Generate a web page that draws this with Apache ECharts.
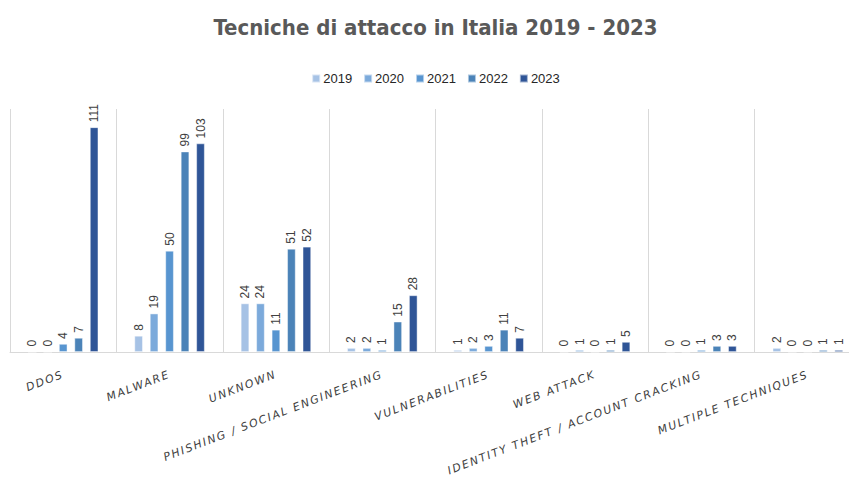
<!DOCTYPE html>
<html>
<head>
<meta charset="utf-8">
<title>Tecniche di attacco in Italia 2019 - 2023</title>
<script src="https://cdn.jsdelivr.net/npm/echarts@6/dist/echarts.min.js"></script>
<style>
  html, body { margin: 0; padding: 0; background: #ffffff; overflow: hidden; }
  #chart { width: 871px; height: 486px; }
  /* spaced-out italic category labels */
  #chart svg text[style*="italic"] { letter-spacing: 1.7px; }
</style>
</head>
<body>
<div id="chart"></div>
<script>
// Attack techniques per year (Italy)
const categories = [
  'DDOS', 'MALWARE', 'UNKNOWN', 'PHISHING / SOCIAL ENGINEERING',
  'VULNERABILITIES', 'WEB ATTACK', 'IDENTITY THEFT / ACCOUNT CRACKING', 'MULTIPLE TECHNIQUES'
];
const years = ['2019', '2020', '2021', '2022', '2023'];
const values2019 = [0, 8, 24, 2, 1, 0, 0, 2];
const values2020 = [0, 19, 24, 2, 2, 1, 0, 0];
const values2021 = [4, 50, 11, 1, 3, 0, 1, 0];
const values2022 = [7, 99, 51, 15, 11, 1, 3, 1];
const values2023 = [111, 103, 52, 28, 7, 5, 3, 1];
const yearColors = ['#a6c2e5', '#7caadb', '#5895d0', '#4b83b8', '#2f5597'];

const seriesValues = [values2019, values2020, values2021, values2022, values2023];

const chart = echarts.init(document.getElementById('chart'), null, { renderer: 'svg' });

chart.setOption({
  backgroundColor: '#ffffff',
  animation: false,
  title: {
    text: 'Tecniche di attacco in Italia 2019 - 2023',
    left: 'center',
    top: 11,
    textStyle: {
      fontFamily: '"Liberation Sans Narrow", "DejaVu Sans Condensed", sans-serif',
      fontWeight: 'bold',
      fontSize: 22,
      color: '#595959'
    }
  },
  legend: {
    data: years,
    top: 67,
    left: 'center',
    icon: 'rect',
    itemWidth: 8,
    itemHeight: 8,
    itemGap: 11,
    textStyle: {
      fontFamily: '"Liberation Sans", sans-serif',
      fontSize: 13,
      color: '#262626',
      padding: [0, 0, 0, -2]
    }
  },
  grid: { left: 10, right: 10, top: 109, bottom: 134, containLabel: false },
  xAxis: {
    type: 'category',
    data: categories,
    axisLine: { show: true, lineStyle: { color: '#d9d9d9', width: 1 } },
    axisTick: { show: false },
    splitLine: { show: true, lineStyle: { color: '#d9d9d9', width: 1 } },
    axisLabel: {
      interval: 0,
      rotate: 21,
      margin: 22,
      fontFamily: '"DejaVu Sans", sans-serif',
      fontStyle: 'italic',
      fontSize: 11,
      color: '#404040'
    }
  },
  yAxis: {
    type: 'value',
    min: 0,
    max: 120,
    interval: 20,
    show: false,
    splitLine: { show: false }
  },
  series: years.map((y, i) => ({
    name: y,
    type: 'bar',
    data: seriesValues[i],
    barWidth: 8.5,
    barGap: '82%',
    itemStyle: {
      color: yearColors[i],
      borderColor: 'rgba(255,255,255,0.55)',
      borderWidth: 0.8
    },
    label: {
      show: true,
      position: 'top',
      rotate: 90,
      align: 'left',
      verticalAlign: 'middle',
      distance: 5,
      fontFamily: '"Liberation Sans", sans-serif',
      fontSize: 12,
      color: '#404040'
    }
  }))
});
</script>
</body>
</html>
